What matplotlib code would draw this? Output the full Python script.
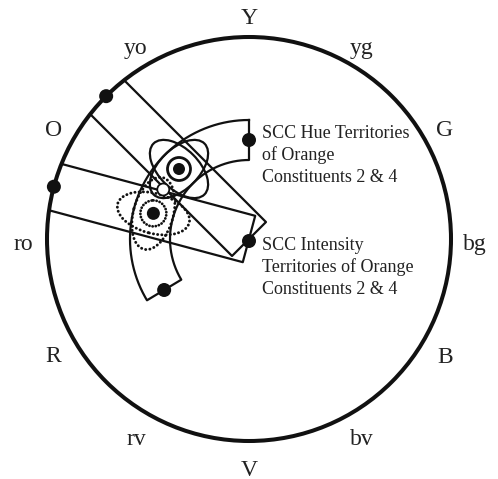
import numpy as np
import matplotlib
matplotlib.use("Agg")
import matplotlib.pyplot as plt
from matplotlib.patches import Circle, Ellipse

plt.rcParams['font.family'] = ['Liberation Serif', 'DejaVu Serif']

# hue circle labels, counter-clockwise from the right (degrees)
labels = ["bg", "G", "yg", "Y", "yo", "O", "ro", "R", "rv", "V", "bv", "B"]
label_angles = [0, 30, 60, 90, 120, 150, 180, 210, 240, 270, 300, 330]

# SCC territories for orange constituents 2 & 4
band_angles = [135, 165]          # intensity bands, radial
hue_span = [90, 211]              # hue territory arc
target_hue = 135
target_int = 165
target_mid = 150

hue_text = ["SCC Hue Territories", "of Orange", "Constituents 2 & 4"]
int_text = ["SCC Intensity", "Territories of Orange", "Constituents 2 & 4"]

cx, cy = 249, 239
R = 202
r_in, r_out, r_mid = 79, 119, 99
half_w = 24


def pt(r, a):
    a = np.radians(a)
    return cx + r * np.cos(a), cy - r * np.sin(a)


fig = plt.figure(figsize=(4.98, 4.79), dpi=100)
ax = fig.add_axes([0, 0, 1, 1])
ax.set_xlim(0, 498)
ax.set_ylim(479, 0)
ax.axis("off")

ax.add_patch(Circle((cx, cy), R, fill=False, lw=2.9, ec="#111111", zorder=3))

for lab, a in zip(labels, label_angles):
    x, y = pt(226, a)
    ax.text(x, y + 5, lab, fontsize=17, ha="center", va="center", color="#222222")

# radial intensity bands
for a in band_angles:
    ar = np.radians(a)
    u = np.array([np.cos(ar), np.sin(ar)])
    n = np.array([-np.sin(ar), np.cos(ar)])
    T = np.sqrt(R ** 2 - half_w ** 2)
    p = [half_w * n + T * u, half_w * n, -half_w * n, -half_w * n + T * u]
    xs = [cx + q[0] for q in p]
    ys = [cy - q[1] for q in p]
    ax.plot(xs, ys, color="#111111", lw=1.6, zorder=2)

# hue arc band
th = np.linspace(hue_span[0], hue_span[1], 200)
ox, oy = pt(r_out, th)
ix, iy = pt(r_in, th[::-1])
ax.plot(np.r_[ox, ix, ox[0]], np.r_[oy, iy, oy[0]], color="#111111", lw=1.6, zorder=2)

# hue flower (solid)
hx, hy = pt(r_mid, target_hue)
for ang in [-target_hue, -target_hue + 90]:
    ax.add_patch(Ellipse((hx, hy), 72, 40, angle=ang, fill=False, lw=1.6,
                         ec="#111111", zorder=4))

# intensity flower (dotted)
ix0, iy0 = pt(r_mid, target_int)
for ang in [-target_int, -target_int + 90]:
    ax.add_patch(Ellipse((ix0, iy0), 74, 40, angle=ang, fill=False, lw=2.1,
                         ec="#111111", ls=(0, (0.05, 1.4)), capstyle="round",
                         zorder=4))

# targets
ax.add_patch(Circle((hx, hy), 11.5, fc="white", ec="#111111", lw=2.0, zorder=5))
ax.add_patch(Circle((hx, hy), 6, fc="#111111", ec="none", zorder=6))
ax.add_patch(Circle((ix0, iy0), 13, fc="white", ec="#111111", lw=2.0,
                    ls=(0, (0.05, 1.1)), capstyle="round", zorder=5))
ax.add_patch(Circle((ix0, iy0), 6.5, fc="#111111", ec="none", zorder=6))
mx, my = pt(r_mid, target_mid)
ax.add_patch(Circle((mx, my), 6, fc="white", ec="#111111", lw=1.3, zorder=6))

# black dots
dots = [pt(R, band_angles[0]), pt(R, band_angles[1]),
        pt(r_mid, hue_span[0]), pt(r_mid, hue_span[1]), (cx, cy + 2)]
for d in dots:
    ax.add_patch(Circle(d, 7, fc="#111111", ec="none", zorder=7))

for i, s in enumerate(hue_text):
    ax.text(262, 138 + 22 * i, s, fontsize=13, ha="left", va="baseline", color="#222222")
for i, s in enumerate(int_text):
    ax.text(262, 250 + 22 * i, s, fontsize=13, ha="left", va="baseline", color="#222222")

fig.savefig("out.png", dpi=100)
